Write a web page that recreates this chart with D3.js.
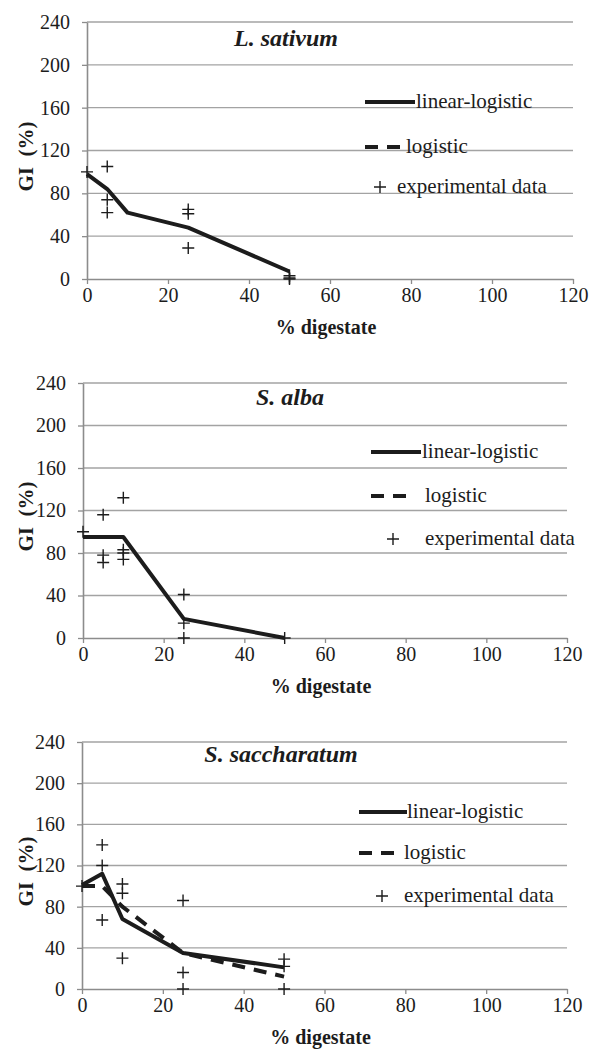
<!DOCTYPE html>
<html>
<head>
<meta charset="utf-8">
<script src="https://cdn.jsdelivr.net/npm/d3@7"></script>
<style>
  body { margin: 0; background: #fff; }
  svg { display: block; }
</style>
</head>
<body>
<div id="chart"></div>
<script>
const xTicks = [0, 20, 40, 60, 80, 100, 120];
const yTicks = [0, 40, 80, 120, 160, 200, 240];
const concentrations = [0, 5, 10, 25, 50];

// L. sativum
const sativumLinLog = [98, 84, 62, 48, 7];
const sativumExpX = [0, 5, 5, 5, 25, 25, 25, 50, 50, 50];
const sativumExpY = [100, 105, 74, 62, 65, 61, 29, 3, 1, 0];

// S. alba
const albaLinLog = [95, 95, 95, 18, 0];
const albaExpX = [0, 5, 5, 5, 10, 10, 10, 10, 25, 25, 25, 50];
const albaExpY = [100, 116, 78, 71, 132, 83, 80, 74, 41, 14, 0, 0];

// S. saccharatum
const sacchLinLog = [101, 112, 68, 35, 21];
const sacchLog = [100, 100, 80, 35, 12];
const sacchExpX = [0, 5, 5, 5, 10, 10, 10, 25, 25, 25, 50, 50, 50];
const sacchExpY = [100, 140, 120, 67, 102, 93, 30, 86, 16, 0, 29, 22, 0];

const legendLabels = ['linear-logistic', 'logistic', 'experimental data'];

const FONT = "'Liberation Serif', 'Times New Roman', serif";
const GRID = '#a3a3a3';
const INK = '#1c1c1c';

const svg = d3.select('#chart').append('svg')
  .attr('width', 590)
  .attr('height', 1049);

svg.append('rect').attr('width', 590).attr('height', 1049).attr('fill', '#fff');

function zip(xs, ys) {
  return xs.map((d, i) => [d, ys[i]]);
}

function drawPanel(p) {
  let x = d3.scaleLinear().domain([0, 120]).range([p.left, p.right]);
  let y = d3.scaleLinear().domain([0, 240]).range([p.bottom, p.top]);
  let g = svg.append('g');

  // horizontal gridlines
  g.append('g').selectAll('line')
    .data(yTicks.filter(d => d > 0))
    .join('line')
    .attr('x1', x(0)).attr('x2', x(120))
    .attr('y1', d => y(d)).attr('y2', d => y(d))
    .attr('stroke', GRID).attr('stroke-width', 1.3);

  let yAxis = g.append('g')
    .attr('transform', `translate(${x(0)},0)`)
    .call(d3.axisLeft(y).tickValues(yTicks).tickSize(5).tickSizeOuter(0).tickPadding(12));
  let xAxis = g.append('g')
    .attr('transform', `translate(0,${y(0)})`)
    .call(d3.axisBottom(x).tickValues(xTicks).tickSize(5).tickSizeOuter(0).tickPadding(4));

  [yAxis, xAxis].forEach(a => {
    a.attr('font-family', FONT).attr('font-size', 20);
    a.select('.domain').attr('stroke', '#8c8c8c').attr('stroke-width', 1.6);
    a.selectAll('.tick line').attr('stroke', '#8c8c8c').attr('stroke-width', 1.3);
    a.selectAll('.tick text').attr('fill', INK);
  });

  // lines
  let line = d3.line().x(d => x(d[0])).y(d => y(d[1]));
  if (p.logistic) {
    g.append('path')
      .datum(zip(concentrations, p.logistic))
      .attr('d', line)
      .attr('fill', 'none')
      .attr('stroke', INK)
      .attr('stroke-width', 4)
      .attr('stroke-dasharray', '13,9');
  }
  g.append('path')
    .datum(zip(concentrations, p.linLog))
    .attr('d', line)
    .attr('fill', 'none')
    .attr('stroke', INK)
    .attr('stroke-width', 4)
    .attr('stroke-linejoin', 'round');

  // experimental points
  g.append('g').selectAll('path')
    .data(zip(p.expX, p.expY))
    .join('path')
    .attr('transform', d => `translate(${x(d[0])},${y(d[1])})`)
    .attr('d', 'M-6,0H6M0,-6V6')
    .attr('stroke', INK)
    .attr('stroke-width', 1.4)
    .attr('fill', 'none');

  // titles
  g.append('text')
    .attr('x', p.titleX).attr('y', y(240) + p.titleDy)
    .attr('text-anchor', 'middle')
    .attr('font-family', FONT).attr('font-size', 24)
    .attr('font-weight', 'bold').attr('font-style', 'italic')
    .attr('fill', INK)
    .text(p.title);

  g.append('text')
    .attr('x', (x(0) + x(120)) / 2 - 4).attr('y', y(0) + 55)
    .attr('text-anchor', 'middle')
    .attr('font-family', FONT).attr('font-size', 20).attr('font-weight', 'bold')
    .attr('fill', INK)
    .text('% digestate');

  g.append('text')
    .attr('transform', `translate(33,${(y(0) + y(240)) / 2 + 6}) rotate(-90)`)
    .attr('text-anchor', 'middle')
    .attr('font-family', FONT).attr('font-size', 21).attr('font-weight', 'bold')
    .style('white-space', 'pre')
    .attr('fill', INK)
    .text('GI  (%)');

  // legend
  let L = p.legend;
  let leg = g.append('g').attr('transform', `translate(${x(0)},${y(240)})`);
  leg.append('line')
    .attr('x1', L.lineX).attr('x2', L.lineX + L.lineW)
    .attr('y1', L.y[0]).attr('y2', L.y[0])
    .attr('stroke', INK).attr('stroke-width', 4);
  leg.append('line')
    .attr('x1', L.lineX).attr('x2', L.lineX + 35)
    .attr('y1', L.y[1]).attr('y2', L.y[1])
    .attr('stroke', INK).attr('stroke-width', 4)
    .attr('stroke-dasharray', '13,9');
  leg.append('path')
    .attr('transform', `translate(${L.plusX},${L.y[2]})`)
    .attr('d', 'M-6,0H6M0,-6V6')
    .attr('stroke', INK).attr('stroke-width', 1.4);
  leg.selectAll('text')
    .data(legendLabels)
    .join('text')
    .attr('x', (d, i) => L.textX[i])
    .attr('y', (d, i) => L.y[i] + 6)
    .attr('font-family', FONT).attr('font-size', 21)
    .attr('fill', INK)
    .text(d => d);
}

drawPanel({
  title: 'L. sativum', titleX: 286, titleDy: 24,
  left: 87, right: 573, top: 22, bottom: 279,
  linLog: sativumLinLog, expX: sativumExpX, expY: sativumExpY,
  legend: { lineX: 278, lineW: 50, plusX: 293, y: [80, 125, 165], textX: [329, 319, 310] }
});

drawPanel({
  title: 'S. alba', titleX: 290, titleDy: 22,
  left: 83, right: 567, top: 383, bottom: 638,
  linLog: albaLinLog, expX: albaExpX, expY: albaExpY,
  legend: { lineX: 288, lineW: 50, plusX: 310, y: [69, 113, 156], textX: [339, 342, 342] }
});

drawPanel({
  title: 'S. saccharatum', titleX: 281, titleDy: 20,
  left: 82, right: 567, top: 742, bottom: 989,
  linLog: sacchLinLog, logistic: sacchLog, expX: sacchExpX, expY: sacchExpY,
  legend: { lineX: 277, lineW: 48, plusX: 300, y: [70, 111, 154], textX: [325, 322, 322] }
});
</script>
</body>
</html>
